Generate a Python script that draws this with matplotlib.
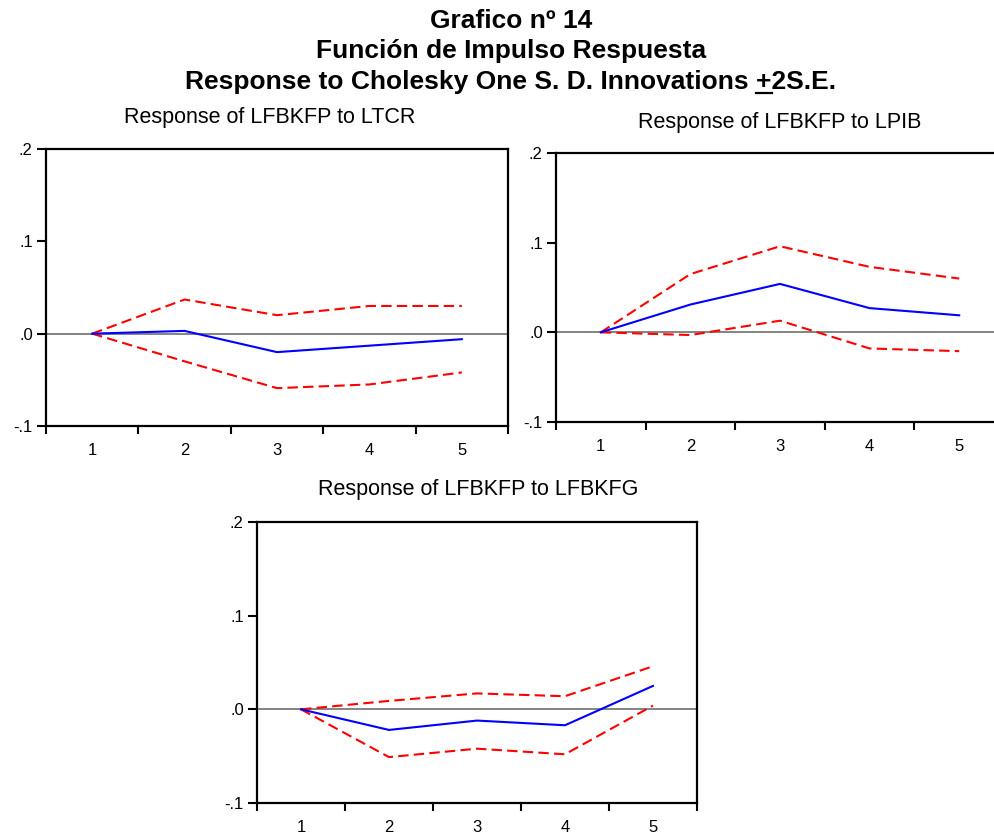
import matplotlib
matplotlib.use('Agg')
import matplotlib.pyplot as plt
from matplotlib.lines import Line2D

plt.rcParams['font.family'] = ['Liberation Sans', 'DejaVu Sans']

periods = [1, 2, 3, 4, 5]
y_ticks = [-0.1, 0.0, 0.1, 0.2]
y_labels = ['-.1', '.0', '.1', '.2']

# response of LFBKFP to LTCR
ltcr_resp = [0.0, 0.003, -0.020, -0.013, -0.006]
ltcr_up = [0.0, 0.037, 0.020, 0.030, 0.030]
ltcr_lo = [0.0, -0.030, -0.059, -0.055, -0.042]

# response of LFBKFP to LPIB
lpib_resp = [0.0, 0.031, 0.054, 0.027, 0.019]
lpib_up = [0.0, 0.065, 0.096, 0.073, 0.060]
lpib_lo = [0.0, -0.003, 0.013, -0.018, -0.021]

# response of LFBKFP to LFBKFG
lfbkfg_resp = [0.0, -0.022, -0.012, -0.017, 0.025]
lfbkfg_up = [0.0, 0.009, 0.017, 0.014, 0.046]
lfbkfg_lo = [0.0, -0.051, -0.042, -0.048, 0.004]

W, H = 994, 836
fig = plt.figure(figsize=(W / 100, H / 100), dpi=100)


def px_axes(left, top, right, bottom):
    return fig.add_axes([left / W, 1 - bottom / H, (right - left) / W, (bottom - top) / H])


def panel(ax, resp, up, lo):
    ax.axhline(0, color='#6e6e6e', lw=1.2, zorder=1)
    ax.plot(periods, up, color='#ff0000', lw=1.5, dashes=(5, 2.5), zorder=2)
    ax.plot(periods, lo, color='#ff0000', lw=1.5, dashes=(5, 2.5), zorder=2)
    ax.plot(periods, resp, color='#0000ff', lw=1.5, zorder=3)
    ax.set_xlim(0.5, 5.5)
    ax.set_ylim(-0.1, 0.2)
    ax.set_xticks([p - 0.5 for p in periods] + [5.5])
    ax.set_xticklabels([])
    ax.set_xticks(periods, minor=True)
    ax.set_xticklabels([str(p) for p in periods], minor=True)
    ax.set_yticks(y_ticks)
    ax.set_yticklabels(y_labels)
    ax.tick_params(axis='x', which='major', direction='out', length=6, width=1.5)
    ax.tick_params(axis='x', which='minor', length=0, pad=12, labelsize=12)
    ax.tick_params(axis='y', direction='out', length=6.5, width=1.5, pad=3, labelsize=12)
    for s in ax.spines.values():
        s.set_linewidth(1.6)


ax1 = px_axes(46, 149, 508, 426)
panel(ax1, ltcr_resp, ltcr_up, ltcr_lo)
ax2 = px_axes(556, 153, 1004, 422)
panel(ax2, lpib_resp, lpib_up, lpib_lo)
ax3 = px_axes(257, 522, 697, 803)
panel(ax3, lfbkfg_resp, lfbkfg_up, lfbkfg_lo)

titles = ['Grafico nº 14', 'Función de Impulso Respuesta',
          'Response to Cholesky One S. D. Innovations +2S.E.']
title_objs = []
for t, yb in zip(titles, [28.5, 58, 89.5]):
    title_objs.append(fig.text(511 / W, 1 - yb / H, t, ha='center', va='baseline',
                               fontsize=19, fontweight='bold'))

# underline the "+" of the last title line
renderer = fig.canvas.get_renderer()
last = title_objs[-1]
full_bb = last.get_window_extent(renderer)
prefix = fig.text(0, 0, 'Response to Cholesky One S. D. Innovations +',
                  fontsize=19, fontweight='bold')
plus = fig.text(0, 0, '+', fontsize=19, fontweight='bold')
w_pre = prefix.get_window_extent(renderer).width
w_plus = plus.get_window_extent(renderer).width
prefix.remove()
plus.remove()
x_end = full_bb.x0 + w_pre
x_start = x_end - w_plus
y_ul = H - 89.5 - 3
fig.add_artist(Line2D([x_start / W, x_end / W], [y_ul / H, y_ul / H],
                      transform=fig.transFigure, color='black', lw=1.6))

sub_titles = ['Response of LFBKFP to LTCR', 'Response of LFBKFP to LPIB',
              'Response of LFBKFP to LFBKFG']
for t, (xc, yb) in zip(sub_titles, [(270, 123), (780, 128), (478, 495)]):
    fig.text(xc / W, 1 - yb / H, t, ha='center', va='baseline', fontsize=15.5)

fig.savefig('out.png', dpi=100)
